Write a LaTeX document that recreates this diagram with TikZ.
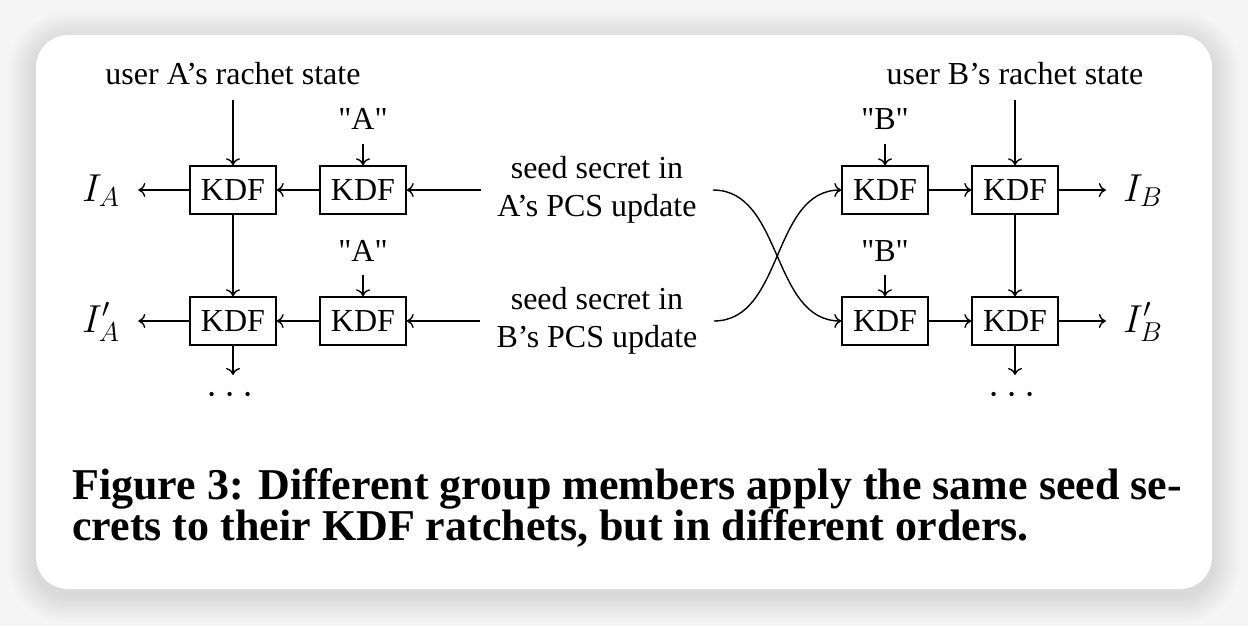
\RequirePackage{fix-cm}
\documentclass[tikz,border=0pt]{standalone}
\usepackage{fontspec}
\setmainfont{Liberation Serif}
\usetikzlibrary{arrows.meta}
\newcommand{\qq}[1]{\textquotedbl#1\textquotedbl}
\begin{document}
\begin{tikzpicture}[x=0.5pt,y=-0.5pt,
  body/.style={font=\fontsize{16}{19}\selectfont},
  kdf/.style={draw, line width=0.7pt, minimum width=43pt, minimum height=24pt, inner sep=0pt, body},
  lbl/.style={inner xsep=0pt, inner ysep=7pt, anchor=base, body},
  seed/.style={inner xsep=8pt, inner ysep=0pt, align=center, font=\fontsize{16}{19}\selectfont},
  outl/.style={anchor=base, inner ysep=0pt, font=\fontsize{19.5}{20}\selectfont},
  capt/.style={anchor=base west, inner sep=0pt, font=\fontsize{22}{20.5}\selectfont\bfseries},
  conn/.style={line width=0.7pt, -{Computer Modern Rightarrow[length=3.5pt,width=7pt]}},
  ]
\useasboundingbox (0,0) rectangle (1248,626);
\fill[black!4] (0,0) rectangle (1248,626);
% shadow
\foreach \i in {1,...,14}{
  \fill[black, opacity=0.007, rounded corners={16pt+\i*1pt}]
    ({36-2*\i},{40-2*\i}) rectangle ({1212+2*\i},{595+2*\i});
}
\fill[white, rounded corners=16pt] (36,35) rectangle (1212,589);

% left side (user A)
\node[lbl] (ua) at (233,85) {user A's rachet state};
\node[lbl] (qa1) at (363,130) {\qq{A}};
\node[lbl] (qa2) at (363,261) {\qq{A}};
\node[kdf] (A1) at (233,190) {KDF};
\node[kdf] (A2) at (363,190) {KDF};
\node[kdf] (A3) at (233,321) {KDF};
\node[kdf] (A4) at (363,321) {KDF};
\node[outl, inner xsep=9pt] (ia) at (101,201) {$I_A$};
\node[outl, inner xsep=9pt] (ia2) at (101,332) {$I'_A$};
\coordinate (eA) at (233,375);
\node[inner sep=0pt, font=\fontsize{20}{20}\selectfont] (dA) at (230,396) {$\cdots$};

% middle texts
\node[seed] (sa) at (597,190) {seed secret in\\A's PCS update};
\node[seed] (sb) at (597,321) {seed secret in\\B's PCS update};

% right side (user B)
\node[lbl] (ub) at (1015,85) {user B's rachet state};
\node[lbl] (qb1) at (885,130) {\qq{B}};
\node[lbl] (qb2) at (885,261) {\qq{B}};
\node[kdf] (B1) at (885,190) {KDF};
\node[kdf] (B2) at (1015,190) {KDF};
\node[kdf] (B3) at (885,321) {KDF};
\node[kdf] (B4) at (1015,321) {KDF};
\node[outl, inner xsep=8.5pt] (ib) at (1143,201) {$I_B$};
\node[outl, inner xsep=8.5pt] (ib2) at (1143,332) {$I'_B$};
\coordinate (eB) at (1015,375);
\node[inner sep=0pt, font=\fontsize{20}{20}\selectfont] (dB) at (1012,396) {$\cdots$};

% connectors A
\draw[conn] (ua.south) -- (A1.north);
\draw[conn] (qa1.south) -- (A2.north);
\draw[conn] (qa2.south) -- (A4.north);
\draw[conn] (A1.south) -- (A3.north);
\draw[conn] (A3.south) -- (eA);
\draw[conn] (A1.west) -- (A1.west -| ia.east);
\draw[conn] (A3.west) -- (A3.west -| ia2.east);
\draw[conn] (A2.west) -- (A1.east);
\draw[conn] (A4.west) -- (A3.east);
\draw[conn] (sa.west) -- (A2.east);
\draw[conn] (sb.west) -- (A4.east);

% crossing curves
\draw[conn] (sa.east) .. controls +(35pt,0) and +(-35pt,0) .. (B3.west);
\draw[conn] (sb.east) .. controls +(35pt,0) and +(-35pt,0) .. (B1.west);

% connectors B
\draw[conn] (ub.south) -- (B2.north);
\draw[conn] (qb1.south) -- (B1.north);
\draw[conn] (qb2.south) -- (B3.north);
\draw[conn] (B2.south) -- (B4.north);
\draw[conn] (B4.south) -- (eB);
\draw[conn] (B1.east) -- (B2.west);
\draw[conn] (B3.east) -- (B4.west);
\draw[conn] (B2.east) -- (B2.east -| ib.west);
\draw[conn] (B4.east) -- (B4.east -| ib2.west);

% caption
\node[capt] (c1) at (72,499) {Figure 3: Different group members apply the same seed se-};
\node[capt] (c2) at (72,540) {crets to their KDF ratchets, but in different orders.};
\end{tikzpicture}
\end{document}
